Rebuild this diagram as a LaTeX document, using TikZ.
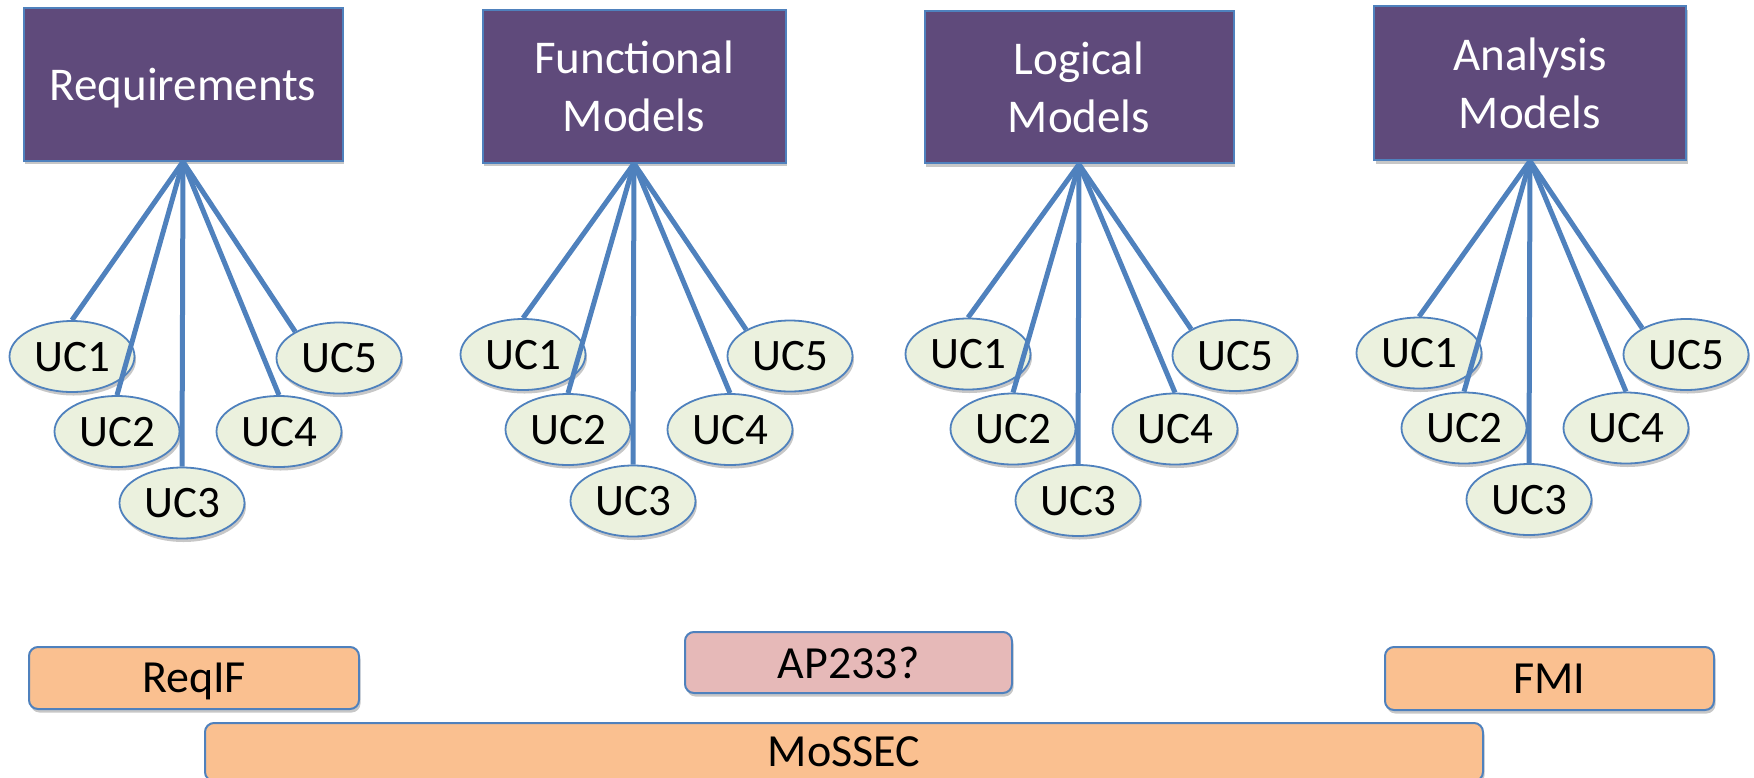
\documentclass[tikz,border=0pt]{standalone}
\usepackage{fontspec}
\setmainfont{Carlito}
\usetikzlibrary{shapes.geometric,shadows}
\definecolor{hdrfill}{HTML}{5F4A7B}
\definecolor{edgeblue}{HTML}{4F81BD}
\definecolor{ucfill}{HTML}{EBF1DE}
\definecolor{stdorange}{HTML}{FAC090}
\definecolor{stdpink}{HTML}{E6B9B8}
\tikzset{
  softshadow/.style={drop shadow={shadow xshift=1.5pt,shadow yshift=-3.5pt,fill=black,opacity=0.22}},
  hdr/.style={rectangle,fill=hdrfill,draw=edgeblue,line width=2pt,text=white,align=center,
    inner sep=0pt,font=\fontsize{47}{58}\selectfont,text depth=0pt,softshadow},
  uc/.style={ellipse,fill=ucfill,draw=edgeblue,line width=1.8pt,minimum width=125pt,
    minimum height=71pt,inner sep=0pt,font=\fontsize{45}{54}\selectfont,text depth=0pt,softshadow},
  stdbox/.style={rectangle,rounded corners=9pt,draw=edgeblue,line width=2pt,inner sep=0pt,
    font=\fontsize{46}{56}\selectfont,text depth=0pt,softshadow},
  fan/.style={draw=edgeblue,line width=5pt}
}
\begin{document}
\begin{tikzpicture}[x=1pt,y=-1pt]
\useasboundingbox (0,0) rectangle (1754,777);
% header boxes
\node[hdr,minimum width=319pt,minimum height=153pt] (r) at (183,84.2) {Requirements};
\node[hdr,minimum width=303pt,minimum height=153pt] (f) at (634,86) {Functional\\Models};
\node[hdr,minimum width=309pt,minimum height=152pt] (l) at (1079,87.3) {Logical\\Models};
\node[hdr,minimum width=312pt,minimum height=154pt] (a) at (1530,83) {Analysis\\Models};
% use-case fans
\foreach \g/\ox/\dy in {r/183/0,f/634/-2,l/1079/-2.5,a/1530/-3.5}{
  \node[uc] (\g1) at (\ox-111,356.5+\dy) {UC1};
  \node[uc] (\g2) at (\ox-66,431.5+\dy) {UC2};
  \node[uc] (\g3) at (\ox-1,503+\dy) {UC3};
  \node[uc] (\g4) at (\ox+96,431.5+\dy) {UC4};
  \node[uc] (\g5) at (\ox+156,358+\dy) {UC5};
  \draw[fan] (\g.south) -- (\g1.north);
  \draw[fan] (\g.south) -- (\g2.north);
  \draw[fan] (\g.south) -- (\g3.north);
  \draw[fan] (\g.south) -- (\g4.north);
  \draw[fan] (\g.south) -- (\g5.149);
}
% standards
\node[stdbox,fill=stdorange,minimum width=330pt,minimum height=62pt] (reqif) at (194,678) {ReqIF};
\node[stdbox,fill=stdpink,minimum width=327pt,minimum height=61pt] (ap) at (848.5,662.5) {AP233?};
\node[stdbox,fill=stdorange,minimum width=329pt,minimum height=63pt] (fmi) at (1549.5,678.5) {FMI};
\node[stdbox,fill=stdorange,minimum width=1278pt,minimum height=58pt] (mossec) at (844,752) {MoSSEC};
\end{tikzpicture}
\end{document}
